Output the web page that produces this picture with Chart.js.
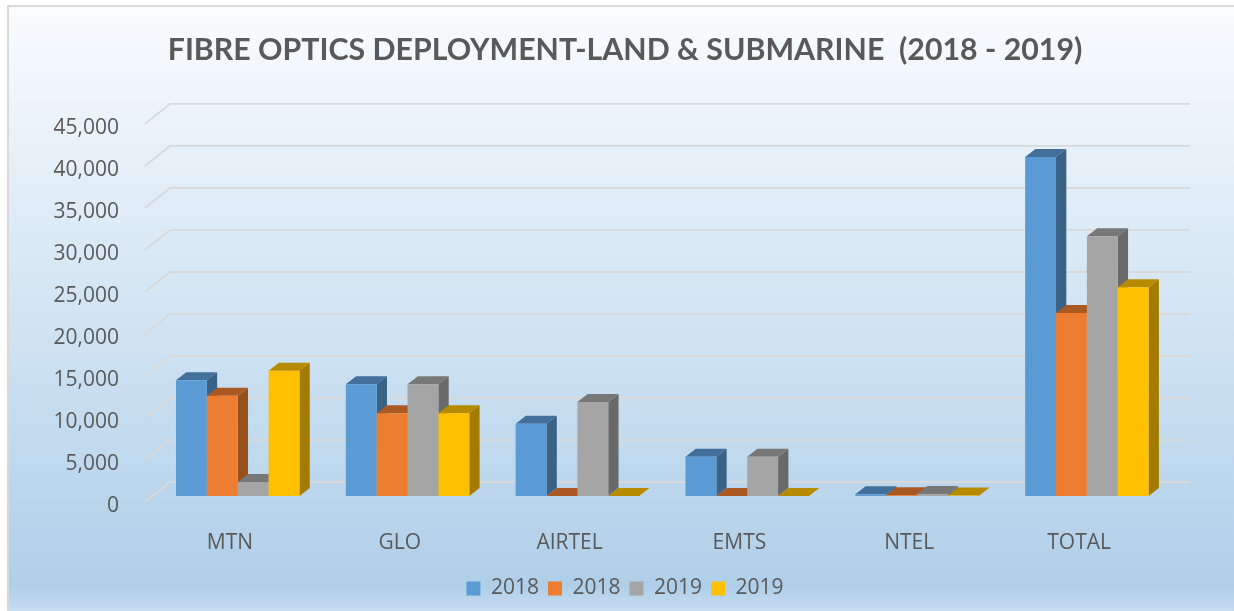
<!DOCTYPE html>
<html><head><meta charset="utf-8">
<style>html,body{margin:0;padding:0;background:#fff}#w{position:relative;width:1234px;height:611px}</style>
<script src="https://cdn.jsdelivr.net/npm/chart.js@4"></script>
</head><body><div id="w"><canvas id="c" width="1234" height="611"></canvas></div>
<script>
const categories = ['MTN','GLO','AIRTEL','EMTS','NTEL','TOTAL'];
const seriesNames = ['2018','2018','2019','2019'];
const series2018a = [13770,13300,8610,4680,200,40350];
const series2018b = [11940,9850,0,0,100,21790];
const series2019a = [1670,13300,11190,4680,250,30920];
const series2019b = [14920,9850,0,0,50,24850];
const frontColors = ['#5b9bd5','#ed7d31','#a5a5a5','#ffc000'];
const topColors = ['#42709b','#ab5923','#777777','#b78a00'];
const sideColors = ['#3a6186','#96501d','#696969','#a37b00'];
const allSeries = [series2018a,series2018b,series2019a,series2019b];

const DEPTH = {barDx:10.3, barDy:8, barShiftX:7.8, barShiftY:-6, wallDx:25, wallDy:20};

function poly(ctx, pts, fill){
  ctx.beginPath();
  pts.forEach((p,i)=> i?ctx.lineTo(p[0],p[1]):ctx.moveTo(p[0],p[1]));
  ctx.closePath(); ctx.fillStyle=fill; ctx.fill();
}
const scene = {
  id:'scene',
  beforeDraw(chart){
    const {ctx,width,height}=chart;
    const g=ctx.createLinearGradient(0,6,0,611);
    g.addColorStop(0,'#f9fcfe');
    g.addColorStop(0.96,'#afcfe9');
    g.addColorStop(1,'#c6dcf0');
    ctx.save();
    ctx.fillStyle='#ffffff'; ctx.fillRect(0,0,width,height);
    ctx.fillStyle=g; ctx.fillRect(8,6,width-8,height-6);
    ctx.fillStyle='#d9d9d9'; ctx.fillRect(7,5,2,height-5); ctx.fillRect(7,5,width-7,2);
    ctx.restore();
  },
  beforeDatasetsDraw(chart){
    const {ctx,chartArea:a,scales:{y}}=chart;
    ctx.save();
    ctx.strokeStyle='#d9d9d9'; ctx.lineWidth=1.8;
    y.ticks.forEach(t=>{
      const py=y.getPixelForValue(t.value);
      ctx.beginPath();
      ctx.moveTo(a.left,py);
      ctx.lineTo(a.left+DEPTH.wallDx,py-DEPTH.wallDy);
      ctx.lineTo(a.right+DEPTH.wallDx+1,py-DEPTH.wallDy);
      ctx.stroke();
    });
    ctx.translate(DEPTH.barShiftX,DEPTH.barShiftY);
    chart.data.datasets.forEach((ds,i)=>{
      const meta=chart.getDatasetMeta(i);
      meta.data.forEach(bar=>{
        const {x,y:ty,base,width}=bar.getProps(['x','y','base','width'],true);
        const l=x-width/2,r=x+width/2,dx=DEPTH.barDx,dy=DEPTH.barDy;
        poly(ctx,[[r,ty],[r+dx,ty-dy],[r+dx,base-dy],[r,base]],sideColors[i]);
        poly(ctx,[[l,ty],[l+dx,ty-dy],[r+dx,ty-dy],[r,ty]],topColors[i]);
      });
      meta.controller.draw();
    });
    ctx.restore();
    return false;
  }
};
Chart.defaults.font.family='"Open Sans", sans-serif';
new Chart(document.getElementById('c'),{
  type:'bar',
  data:{labels:categories,datasets:allSeries.map((d,i)=>({label:seriesNames[i],data:d,backgroundColor:frontColors[i],borderWidth:0}))},
  options:{
    responsive:false,animation:false,
    categoryPercentage:0.727,barPercentage:1,
    layout:{padding:{left:16,right:0,top:0,bottom:2}},
    plugins:{
      tooltip:{enabled:false},
      title:{display:true,text:'FIBRE OPTICS DEPLOYMENT-LAND & SUBMARINE  (2018 - 2019)',color:'#595959',
        font:{family:'Lato',size:30.3,weight:'bold'},padding:{top:32,bottom:55.6}},
      legend:{position:'bottom',labels:{boxWidth:14,boxHeight:14,color:'#595959',font:{size:21},padding:9}}
    },
    scales:{
      x:{grid:{display:false},border:{display:false},
        ticks:{color:'#595959',font:{size:21},padding:20,maxRotation:0},
        afterFit(s){s.height=67;}},
      y:{min:0,max:45000,grid:{display:false},border:{display:false},
        ticks:{stepSize:5000,color:'#595959',font:{size:21},padding:18,labelOffset:4},
        afterFit(s){s.width=129;}},
      margin:{position:'right',min:0,max:1,grid:{display:false},border:{display:false},
        ticks:{display:false},afterFit(s){s.width=70;}}
    }
  },
  plugins:[scene]
});
</script></body></html>
